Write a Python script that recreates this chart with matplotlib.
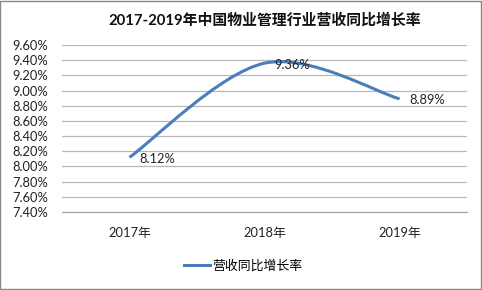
import matplotlib
matplotlib.use('Agg')
from matplotlib import pyplot as plt
from matplotlib.path import Path
from matplotlib.patches import PathPatch, Rectangle
from matplotlib.lines import Line2D
from matplotlib.ticker import FuncFormatter, MultipleLocator

plt.rcParams['font.family'] = ['Lato', 'Noto Sans CJK SC', 'DejaVu Sans']

# data
years = ['2017年', '2018年', '2019年']
growth = [8.12, 9.36, 8.89]
title = '2017-2019年中国物业管理行业营收同比增长率'
series_name = '营收同比增长率'

line_color = '#4a7ebb'
fs = 9.3

fig = plt.figure(figsize=(4.82, 2.90), dpi=100)
ax = fig.add_axes([0.1286, 0.269, 0.8404, 0.576])

x = list(range(len(growth)))

# smoothed line like excel (catmull-rom as bezier)
pts = list(zip(x, growth))
ext = [pts[0]] + pts + [pts[-1]]
verts = [pts[0]]
codes = [Path.MOVETO]
for i in range(1, len(ext) - 2):
    p0, p1, p2, p3 = ext[i - 1], ext[i], ext[i + 1], ext[i + 2]
    c1 = (p1[0] + (p2[0] - p0[0]) / 6, p1[1] + (p2[1] - p0[1]) / 6)
    c2 = (p2[0] - (p3[0] - p1[0]) / 6, p2[1] - (p3[1] - p1[1]) / 6)
    verts += [c1, c2, p2]
    codes += [Path.CURVE4] * 3
ax.add_patch(PathPatch(Path(verts, codes), facecolor='none', edgecolor=line_color,
                       lw=2.2, capstyle='butt', zorder=3))

for xi, v in zip(x, growth):
    ax.annotate('%.2f%%' % v, (xi, v), xytext=(7, -1), textcoords='offset points',
                ha='left', va='center', fontsize=fs, color='#222222', zorder=4)

ax.set_xlim(-0.5, 2.5)
ax.set_ylim(7.4, 9.6)
ax.yaxis.set_major_locator(MultipleLocator(0.2))
ax.yaxis.set_major_formatter(FuncFormatter(lambda v, p: '%.2f%%' % v))
ax.set_xticks(x)
ax.set_xticklabels(years)
ax.tick_params(axis='y', length=0, pad=10, labelsize=fs, labelcolor='#222222')
ax.tick_params(axis='x', length=0, pad=11, labelsize=fs, labelcolor='#222222')
ax.grid(axis='y', color='#b8b8b8', lw=0.9)
ax.set_axisbelow(True)
for s in ['top', 'left', 'right']:
    ax.spines[s].set_visible(False)
ax.spines['bottom'].set_color('#a0a0a0')

fig.text(0.55, 0.93, title, ha='center', va='center', fontsize=10.7, fontweight='bold',
         color='#111111')

handle = Line2D([], [], color=line_color, lw=2.2)
fig.legend([handle], [series_name], loc='center', bbox_to_anchor=(0.505, 0.085),
           frameon=False, fontsize=fs, handlelength=2.0, handletextpad=0.2)

fig.patches.append(Rectangle((0.001, 0.002), 0.997, 0.995, transform=fig.transFigure,
                             fill=False, edgecolor='#888888', lw=1))

fig.savefig('out.png', dpi=100)
